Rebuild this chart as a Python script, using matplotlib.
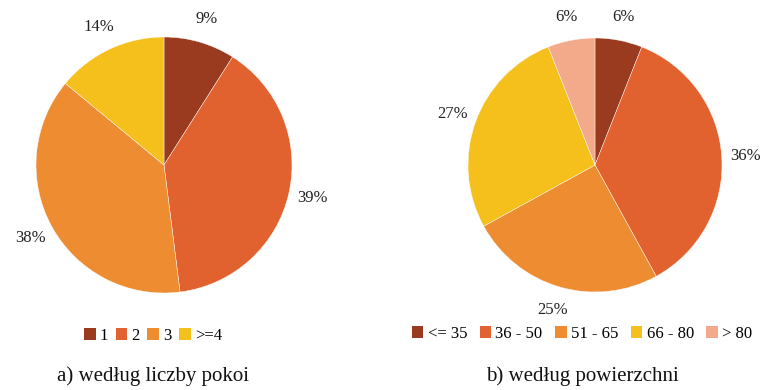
import matplotlib
matplotlib.use('Agg')
import matplotlib.pyplot as plt
from matplotlib.patches import Patch

plt.rcParams['font.family'] = ['Liberation Serif', 'DejaVu Serif']

# ── dane ────────────────────────────────────────────────────
rooms_labels = ['1', '2', '3', '>=4']
rooms_share  = [9, 39, 38, 14]
rooms_colors = ['#9a3a1f', '#e2622f', '#ee8c31', '#f5bf1c']

area_labels = ['<= 35', '36 - 50', '51 - 65', '66 - 80', '> 80']
area_share  = [6, 36, 25, 27, 6]
area_colors = ['#9a3a1f', '#e2622f', '#ee8c31', '#f5bf1c', '#f2aa8a']

W, H = 764, 390
fig = plt.figure(figsize=(W / 100, H / 100), dpi=100)

def pie_axes(cx, cy, r):
    # środek i promień w pikselach (y od góry)
    return fig.add_axes([(cx - r) / W, (H - cy - r) / H, 2 * r / W, 2 * r / H])

for (cx, cy, r), vals, cols, labels, lx, ly, cap, csp in [
    ((164, 165, 128), rooms_share, rooms_colors, rooms_labels, 153, 336, 'a) według liczby pokoi', 0.45),
    ((595, 165, 127), area_share, area_colors, area_labels, 582, 334, 'b) według powierzchni', 0.75),
]:
    ax = pie_axes(cx, cy, r)
    ax.pie(vals, colors=cols, startangle=90, counterclock=False, radius=1,
           autopct='%.0f%%', pctdistance=1.19,
           wedgeprops=dict(edgecolor='white', linewidth=0.3),
           textprops=dict(fontsize=12, color='#222222'))
    ax.set_xlim(-1, 1); ax.set_ylim(-1, 1)
    ax.set_aspect('equal')
    ax.axis('off')

    handles = [Patch(facecolor=c, edgecolor='none') for c in cols]
    fig.legend(handles, labels, loc='center', bbox_to_anchor=(lx / W, 1 - ly / H),
               ncol=len(labels), frameon=False, fontsize=12,
               handlelength=0.7, handleheight=0.7, handletextpad=0.25,
               columnspacing=csp, borderpad=0.2)
    fig.text(lx / W, 1 - 376 / H, cap, ha='center', va='center', fontsize=15,
             color='#111111')

plt.savefig('out.png', dpi=100)
plt.close()
